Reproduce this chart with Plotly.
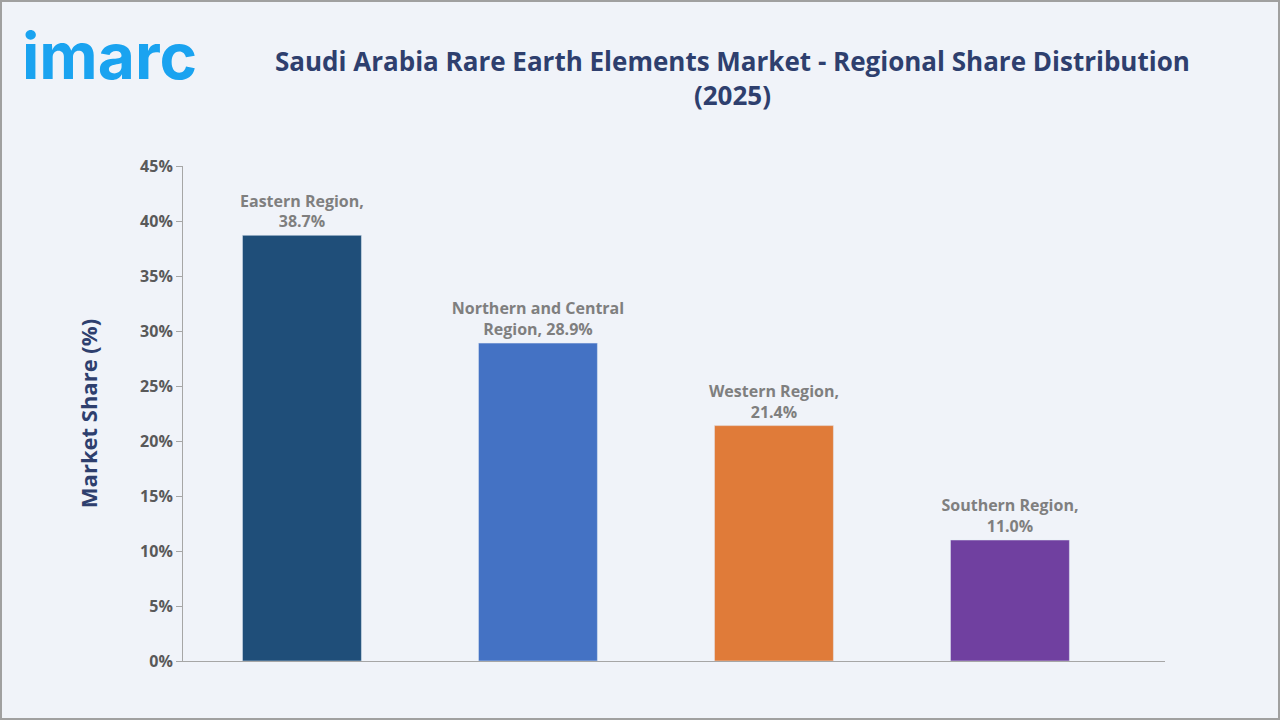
import plotly.graph_objects as go

categories = ["Eastern Region", "Northern and Central Region", "Western Region", "Southern Region"]
values = [38.7, 28.9, 21.4, 11.0]
labels = ["<b>Eastern Region,<br>38.7%</b>", "<b>Northern and Central<br>Region, 28.9%</b>",
          "<b>Western Region,<br>21.4%</b>", "<b>Southern Region,<br>11.0%</b>"]
colors = ["#1f4e79", "#4472c4", "#e07b39", "#7040a0"]
tickvals = [0, 5, 10, 15, 20, 25, 30, 35, 40, 45]
ticktext = ["<b>%d%%</b>" % v for v in tickvals]

fig = go.Figure(go.Bar(
    x=list(range(len(categories))), y=values, marker_color=colors, width=0.504,
    hovertext=categories,
    text=labels, textposition="outside", cliponaxis=False, constraintext="none",
    textfont=dict(family="Open Sans", size=16, color="#7f7f7f"),
))
fig.update_layout(
    width=1280, height=720,
    paper_bgcolor="#f0f3f9", plot_bgcolor="#f0f3f9",
    margin=dict(l=183, r=115, t=166, b=59),
    showlegend=False, uniformtext=dict(minsize=16, mode="show"),
    xaxis=dict(range=[-0.504, 3.657], showticklabels=False, showline=True, linecolor="#a6a6a6", ticks="", showgrid=False, zeroline=False),
    yaxis=dict(range=[0, 45], tickvals=tickvals, ticktext=ticktext, showgrid=False, zeroline=False,
               showline=True, linecolor="#a6a6a6", ticks="outside", ticklen=6, tickcolor="#a6a6a6",
               tickfont=dict(family="Open Sans", size=16, color="#595959"),
               title=dict(text="<b>Market Share (%)</b>", standoff=36,
                          font=dict(family="Open Sans", size=22, color="#2e3f6e"))),
    shapes=[dict(type="rect", xref="paper", yref="paper", x0=-182/982, x1=1+114/982,
                 y0=-58/495, y1=1+165/495, line=dict(color="#a0a0a0", width=2))],
)
fig.add_annotation(text="<b>Saudi Arabia Rare Earth Elements Market - Regional Share Distribution<br>(2025)</b>",
                   xref="paper", yref="paper", x=(732-183)/982, y=1+(661-78-495)/495 + 0,
                   xanchor="center", yanchor="middle", showarrow=False,
                   font=dict(family="Open Sans", size=26, color="#2e3f6e"))
fig.add_annotation(text="<b>imarc</b>", xref="paper", yref="paper", x=-163/982, y=1+(166-56)/495,
                   xanchor="left", yanchor="middle", showarrow=False,
                   font=dict(family="Inter", size=64, color="#1aa3f0"))
fig.write_html("out.html", config={"displayModeBar": False},
               post_script="document.body.style.margin='0';")
